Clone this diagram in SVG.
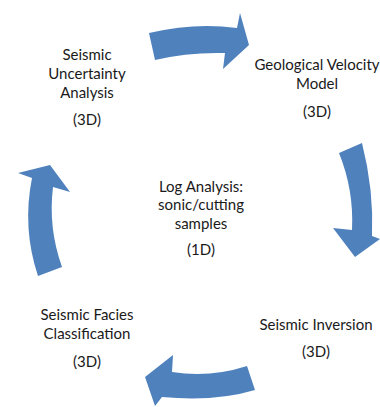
<svg xmlns="http://www.w3.org/2000/svg" width="380" height="407" viewBox="0 0 380 407">
<style>
.arrow{fill:#4F81BD;stroke:none}
text{font-family:Lato,"Open Sans","Liberation Sans",sans-serif;font-size:15px;fill:#1a1a1a;text-anchor:middle}
</style>
<rect width="380" height="407" fill="#ffffff"/>
<g id="connectors">
<path class="arrow" d="M149,33 Q195,22 237,28 L240,13 L249,45 L223,69 L225,53 Q188,52 155,60 Z"/>
<path class="arrow" d="M339,153 L362,143 Q374,190 372,236 L380,239 L355,257 L333,228 L352,230 Q354,190 339,153 Z"/>
<path class="arrow" d="M247,366 Q210,378 172,372 L173,355 L145,377 L155,406 L162,397 Q215,402 255,390 Z"/>
<path class="arrow" d="M38,276 Q22,228 32,178 L18,173 L50,165 L70,192 L53,187 Q48,228 62,267 Z"/>
</g>
<g id="node-uncertainty">
<text x="87" y="60">Seismic</text>
<text x="87" y="79">Uncertainty</text>
<text x="87" y="98">Analysis</text>
<text x="87" y="125">(3D)</text>
</g>
<g id="node-velocity">
<text x="317" y="70">Geological Velocity</text>
<text x="317" y="89">Model</text>
<text x="317" y="117">(3D)</text>
</g>
<g id="node-log">
<text x="201" y="192">Log Analysis:</text>
<text x="201" y="210">sonic/cutting</text>
<text x="201" y="229">samples</text>
<text x="201" y="255">(1D)</text>
</g>
<g id="node-facies">
<text x="87" y="320">Seismic Facies</text>
<text x="87" y="339">Classification</text>
<text x="87" y="367">(3D)</text>
</g>
<g id="node-inversion">
<text x="316" y="330">Seismic Inversion</text>
<text x="316" y="357">(3D)</text>
</g>
</svg>
